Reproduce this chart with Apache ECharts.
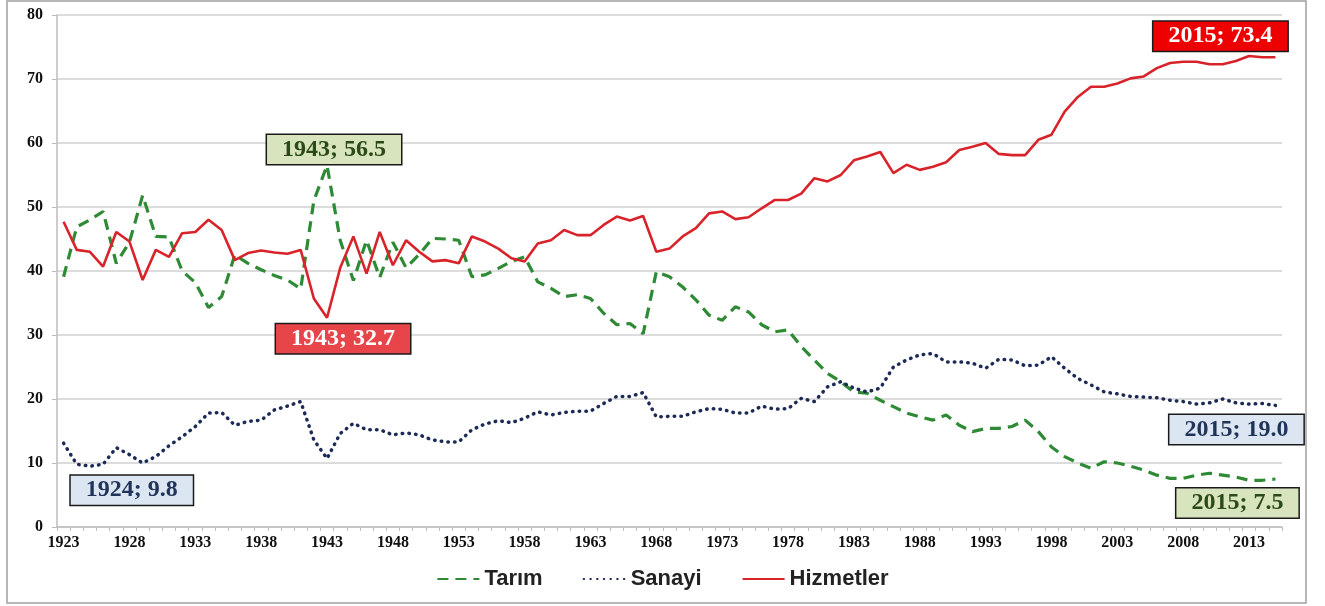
<!DOCTYPE html>
<html>
<head>
<meta charset="utf-8">
<script src="https://cdn.jsdelivr.net/npm/echarts@6/dist/echarts.min.js"></script>
<style>html,body{margin:0;padding:0;background:#fff}#c{width:1325px;height:606px}</style>
</head>
<body>
<div id="c"></div>
<script>
// Years 1923..2015
const years = [];
for (let y = 1923; y <= 2015; y++) years.push(String(y));

const tarim = [
  39.1, 46.9, 48.0, 49.3, 41.2, 44.5, 51.8, 45.4, 45.3, 40.0,
  38.2, 34.3, 36.0, 42.5, 41.2, 40.2, 39.3, 38.6, 37.2, 51.0,
  56.5, 44.8, 38.5, 44.8, 39.0, 44.5, 40.5, 42.6, 45.1, 45.0,
  44.8, 39.1, 39.4, 40.4, 41.5, 42.2, 38.3, 37.3, 36.0, 36.3,
  35.7, 33.4, 31.6, 31.8, 30.2, 39.9, 39.1, 37.5, 35.5, 33.1,
  32.3, 34.4, 33.6, 31.6, 30.5, 30.8, 28.2, 26.1, 24.0, 22.7,
  21.1, 20.9, 19.8, 18.8, 17.8, 17.2, 16.7, 17.5, 15.9, 14.9,
  15.4, 15.4, 15.7, 16.7, 14.9, 12.5, 11.0, 10.0, 9.2, 10.2,
  10.0, 9.5, 8.9, 8.1, 7.6, 7.6, 8.1, 8.4, 8.1, 7.8,
  7.3, 7.3, 7.5
];
const sanayi = [
  13.1, 9.8, 9.5, 9.8, 12.4, 11.3, 10.0, 11.0, 12.7, 14.1,
  15.7, 17.8, 17.9, 15.9, 16.5, 16.7, 18.3, 18.9, 19.6, 13.6,
  10.7, 14.6, 16.2, 15.2, 15.2, 14.4, 14.7, 14.4, 13.6, 13.3,
  13.3, 15.2, 16.1, 16.6, 16.3, 17.0, 18.0, 17.5, 17.9, 18.1,
  18.1, 19.3, 20.4, 20.4, 21.0, 17.2, 17.3, 17.3, 18.0, 18.5,
  18.4, 17.8, 17.8, 18.9, 18.4, 18.5, 20.1, 19.6, 21.9, 22.7,
  21.7, 21.1, 21.7, 25.0, 26.1, 26.9, 27.1, 25.8, 25.8, 25.6,
  24.8, 26.2, 26.1, 25.2, 25.3, 26.6, 24.8, 23.2, 22.2, 21.1,
  20.8, 20.4, 20.3, 20.2, 19.8, 19.6, 19.2, 19.4, 20.0, 19.4,
  19.2, 19.3, 19.0
];
const hizmetler = [
  47.7, 43.3, 43.0, 40.7, 46.1, 44.6, 38.6, 43.3, 42.2, 45.9,
  46.1, 48.0, 46.4, 41.7, 42.8, 43.2, 42.9, 42.7, 43.3, 35.7,
  32.7, 40.5, 45.4, 39.6, 46.1, 40.9, 44.8, 43.0, 41.5, 41.7,
  41.2, 45.4, 44.6, 43.5, 42.0, 41.5, 44.3, 44.8, 46.4, 45.6,
  45.6, 47.2, 48.5, 47.9, 48.6, 43.0, 43.5, 45.4, 46.7, 49.0,
  49.3, 48.1, 48.4, 49.8, 51.1, 51.1, 52.1, 54.5, 54.0, 55.0,
  57.3, 57.9, 58.6, 55.3, 56.6, 55.8, 56.3, 57.0, 58.9, 59.4,
  60.0, 58.3, 58.1, 58.1, 60.5, 61.3, 64.9, 67.2, 68.8, 68.8,
  69.3, 70.1, 70.4, 71.7, 72.5, 72.7, 72.7, 72.3, 72.3, 72.8,
  73.6, 73.4, 73.4
];

const seriesNames = ['Tarım', 'Sanayi', 'Hizmetler'];
// annotated years per series
const tarimNotes = ['1943', '2015'];
const sanayiNotes = ['1924', '2015'];
const hizmetlerNotes = ['1943', '2015'];

// label styles (positions relative to the point)
const noteStyle = {
  'Tarım': { bg: '#d7e4bd', color: '#2b4a17', offsets: { '1943': [7, -16], '2015': [-38, 24] } },
  'Sanayi': { bg: '#dce6f2', color: '#1f3458', offsets: { '1924': [55, 26], '2015': [-39, 24] } },
  'Hizmetler': { bg: '#e8454a', color: '#ffffff', offsets: { '1943': [16, 21], '2015': [-55, -21] },
                 bgBy: { '2015': '#ee0000' } }
};

function makeMarks(name, values, notes) {
  const st = noteStyle[name];
  return {
    symbol: 'circle',
    symbolSize: 1,
    itemStyle: { color: 'rgba(0,0,0,0)' },
    animation: false,
    silent: true,
    z: 10,
    data: notes.map(function (yr) {
      const idx = years.indexOf(yr);
      const v = values[idx];
      return {
        coord: [yr, v],
        value: v,
        label: {
          show: true,
          position: 'inside',
          offset: st.offsets[yr],
          formatter: yr + '; ' + v.toFixed(1),
          fontFamily: 'Liberation Serif',
          fontWeight: 'bold',
          fontSize: 24,
          color: st.color,
          backgroundColor: (st.bgBy && st.bgBy[yr]) || st.bg,
          borderColor: '#1a1a1a',
          borderWidth: 1.5,
          padding: [3, 15, 2, 15]
        }
      };
    })
  };
}

const chart = echarts.init(document.getElementById('c'), null, { renderer: 'canvas' });

chart.setOption({
  animation: false,
  backgroundColor: '#ffffff',
  graphic: [{
    type: 'rect',
    shape: { x: 7, y: 1, width: 1299, height: 602 },
    style: { fill: 'none', stroke: '#a0a0a0', lineWidth: 1.5 },
    silent: true,
    z: -1
  }],
  grid: { left: 57, right: 43, top: 15, bottom: 79, containLabel: false },
  legend: {
    bottom: 11,
    left: 'center',
    itemWidth: 42,
    itemHeight: 14,
    itemGap: 40,
    data: seriesNames,
    itemStyle: { opacity: 0 },
    textStyle: { fontFamily: 'Liberation Sans', fontWeight: 'bold', fontSize: 22, color: '#222' }
  },
  xAxis: {
    type: 'category',
    data: years,
    boundaryGap: true,
    axisLine: { lineStyle: { color: '#bdbdbd', width: 1.5 } },
    axisTick: { show: true, interval: 0, length: 4, lineStyle: { color: '#bdbdbd' } },
    axisLabel: {
      interval: 4,
      fontFamily: 'Liberation Serif',
      fontWeight: 'bold',
      fontSize: 16,
      color: '#111',
      margin: 8
    },
    splitLine: { show: false }
  },
  yAxis: {
    type: 'value',
    min: 0,
    max: 80,
    interval: 10,
    axisLine: { show: true, lineStyle: { color: '#bdbdbd', width: 1.5 } },
    axisTick: { show: true, length: 5, lineStyle: { color: '#bdbdbd' } },
    axisLabel: {
      fontFamily: 'Liberation Serif',
      fontWeight: 'bold',
      fontSize: 16,
      color: '#111',
      margin: 14
    },
    splitLine: { show: true, lineStyle: { color: '#d0d0d0', width: 1.5 } }
  },
  series: [
    {
      name: 'Tarım',
      type: 'line',
      data: tarim,
      symbol: 'none',
      lineStyle: { color: '#2f8a35', width: 3.2, type: [11, 7] },
      itemStyle: { color: '#2f8a35' },
      z: 3,
      markPoint: makeMarks('Tarım', tarim, tarimNotes)
    },
    {
      name: 'Sanayi',
      type: 'line',
      data: sanayi,
      symbol: 'none',
      lineStyle: { color: '#1c2a55', width: 3.5, type: [0.5, 6.2], cap: 'round' },
      itemStyle: { color: '#1c2a55' },
      z: 3,
      markPoint: makeMarks('Sanayi', sanayi, sanayiNotes)
    },
    {
      name: 'Hizmetler',
      type: 'line',
      data: hizmetler,
      symbol: 'none',
      lineStyle: { color: '#d9232b', width: 2.6 },
      itemStyle: { color: '#d9232b' },
      z: 4,
      markPoint: makeMarks('Hizmetler', hizmetler, hizmetlerNotes)
    }
  ]
});
</script>
</body>
</html>
